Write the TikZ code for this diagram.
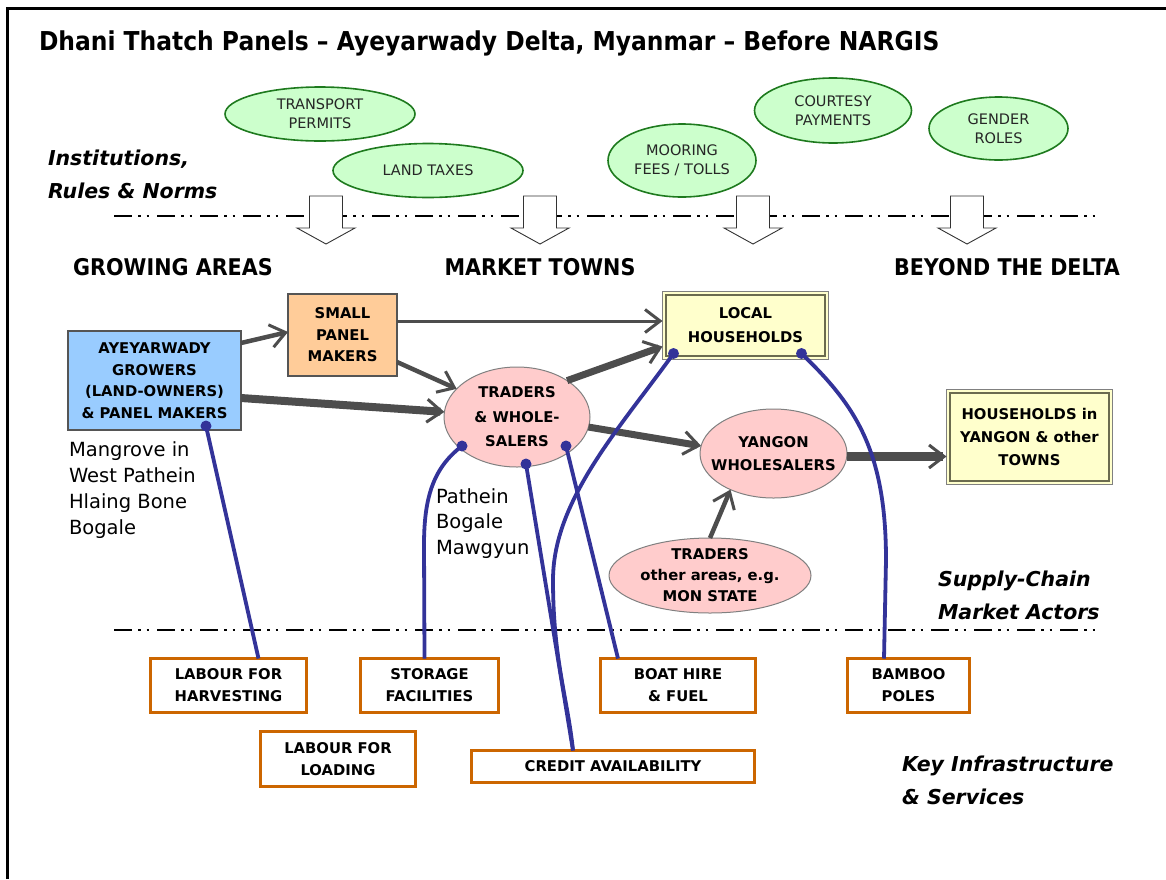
\documentclass[tikz,border=0pt]{standalone}
\usepackage{fontspec}
\setmainfont{DejaVu Sans}
\newfontfamily\tahoma{DejaVu Sans}[FakeStretch=0.9]
\usetikzlibrary{arrows.meta,shapes.geometric,calc}

\definecolor{instfill}{HTML}{CCFFCC}
\definecolor{instline}{HTML}{1E7A1E}
\definecolor{growfill}{HTML}{99CCFF}
\definecolor{makerfill}{HTML}{FFCC99}
\definecolor{tradefill}{HTML}{FFCCCC}
\definecolor{hhfill}{HTML}{FFFFCC}
\definecolor{hhinner}{HTML}{6B6B4F}
\definecolor{boxline}{HTML}{555555}
\definecolor{ellline}{HTML}{808080}
\definecolor{servline}{HTML}{CC6600}
\definecolor{linkblue}{HTML}{333399}
\definecolor{flowgray}{HTML}{4D4D4D}

\tikzset{
  every node/.style={inner sep=0pt, outer sep=0pt},
  inst/.style={ellipse, draw=instline, line width=1.6pt, fill=instfill, align=center,
    text=black!85, font=\fontsize{14.5}{19}\selectfont},
  actorbox/.style={rectangle, draw=boxline, line width=1.8pt, align=center,
    font=\bfseries\fontsize{14.8}{21.5}\selectfont},
  actorell/.style={ellipse, draw=ellline, line width=1pt, fill=tradefill, align=center,
    inner sep=-14pt, font=\bfseries\fontsize{14.8}{23}\selectfont},
  hhbox/.style={rectangle, draw=ellline, line width=1.2pt, fill=hhfill, align=center,
    font=\bfseries\fontsize{14.8}{23}\selectfont},
  hhline/.style={draw=hhinner, line width=1.6pt},
  serv/.style={rectangle, draw=servline, line width=3.2pt, fill=white, align=center,
    font=\bfseries\fontsize{14.8}{22}\selectfont},
  flow/.style={draw=flowgray, -{Straight Barb[length=15pt, width=23pt, line width=3pt]}},
  link/.style={draw=linkblue, line width=3.8pt},
  divider/.style={line width=2.8pt,
    dash pattern=on 18pt off 6pt on 2.5pt off 6pt on 2.5pt off 8pt},
  sect/.style={font=\bfseries\itshape\fontsize{20.5}{33}\selectfont, align=left, anchor=base west},
  place/.style={font=\fontsize{19.5}{25.7}\selectfont, align=left, anchor=base west},
  header/.style={font=\tahoma\bfseries\fontsize{23}{27}\selectfont, anchor=base},
  hollow/.pic={
    \draw[draw=black!80, line width=0.9pt, fill=white]
      (-16.5,0) -- (16.5,0) -- (16.5,32) -- (29,32) -- (0,48) -- (-29,32) -- (-16.5,32) -- cycle;
  },
}

\begin{document}
\begin{tikzpicture}[x=1pt, y=-1pt]
\useasboundingbox (0,0) rectangle (1166,879);

% page frame
\draw[line width=2.8pt] (7.5,879) -- (7.5,8.5) -- (1166,8.5);

% title
\node[anchor=base west, font=\tahoma\bfseries\fontsize{26}{30}\selectfont] (title) at (39,50)
  {Dhani Thatch Panels – Ayeyarwady Delta, Myanmar – Before NARGIS};

% level labels (anchored at the baseline of their last line)
\node[sect] (lvlinst) at (48,198) {Institutions,\\Rules \& Norms};
\node[sect] (lvlsc) at (938,619.5) {Supply-Chain\\Market Actors};
\node[sect] (lvlkey) at (902,804.5) {Key Infrastructure\\\& Services};

% dividers
\draw[divider] (114,216) -- (1101,216);
\draw[divider] (114,630) -- (1099,630);

% institutional influence arrows
\pic at (326,196) {hollow};
\pic at (540,196) {hollow};
\pic at (753,196) {hollow};
\pic at (967,196) {hollow};

% institutions, rules and norms
\node[inst, minimum width=190pt, minimum height=54pt] (tp) at (320,114) {TRANSPORT\\PERMITS};
\node[inst, minimum width=190pt, minimum height=54pt] (lt) at (428,170.5) {LAND TAXES};
\node[inst, minimum width=148pt, minimum height=73pt] (mf) at (682,160.5) {MOORING\\FEES / TOLLS};
\node[inst, minimum width=157pt, minimum height=65pt] (cp) at (833,110.5) {COURTESY\\PAYMENTS};
\node[inst, minimum width=139pt, minimum height=63pt] (gr) at (998.5,128.5) {GENDER\\ROLES};

% column headers
\node[header] (hgrow) at (173,275) {GROWING AREAS};
\node[header] (hmkt) at (540,275) {MARKET TOWNS};
\node[header] (hbey) at (1007,275) {BEYOND THE DELTA};

% supply-chain actors
\node[actorbox, fill=growfill, minimum width=173pt, minimum height=99pt] (grow) at (154.5,380.5)
  {AYEYARWADY\\GROWERS\\(LAND-OWNERS)\\\& PANEL MAKERS};
\node[actorbox, fill=makerfill, minimum width=109pt, minimum height=82pt] (small) at (342.5,335)
  {SMALL\\PANEL\\MAKERS};
\node[actorell, minimum width=146pt, minimum height=100pt, font=\bfseries\fontsize{14.8}{24.5}\selectfont]
  (traders) at (517,417) {TRADERS\\\& WHOLE-\\SALERS};
\node[hhbox, minimum width=166pt, minimum height=68pt, font=\bfseries\fontsize{14.8}{24}\selectfont]
  (lh) at (745.5,325.5) {LOCAL\\HOUSEHOLDS};
\node[hhbox, minimum width=166pt, minimum height=95pt] (hhy) at (1029.5,437)
  {HOUSEHOLDS in\\YANGON \& other\\TOWNS};
\node[actorell, minimum width=147pt, minimum height=89pt] (yang) at (773.5,453.5)
  {YANGON\\WHOLESALERS};
\node[actorell, minimum width=202pt, minimum height=75pt, font=\bfseries\fontsize{14.8}{21}\selectfont]
  (tother) at (710,575.5) {TRADERS\\other areas, e.g.\\MON STATE};
\foreach \n in {lh,hhy}
  \draw[hhline] ([shift={(3.5,3.5)}]\n.north west) rectangle ([shift={(-3.5,-3.5)}]\n.south east);

% locations (anchored at the baseline of their last line)
\node[place] (locgrow) at (69,534) {Mangrove in\\West Pathein\\Hlaing Bone\\Bogale};
\node[place] (locmkt) at (436,554.5) {Pathein\\Bogale\\Mawgyun};

% infrastructure and services
\node[serv, minimum width=156pt, minimum height=54pt] (harv) at (228.5,685.5) {LABOUR FOR\\HARVESTING};
\node[serv, minimum width=138pt, minimum height=54pt] (stor) at (429.5,685.5) {STORAGE\\FACILITIES};
\node[serv, minimum width=155pt, minimum height=54pt] (boat) at (678,685.5) {BOAT HIRE\\\& FUEL};
\node[serv, minimum width=155pt, minimum height=55pt] (load) at (338,759) {LABOUR FOR\\LOADING};
\node[serv, minimum width=283pt, minimum height=32pt] (credit) at (613,766.5) {CREDIT AVAILABILITY};
\node[serv, minimum width=122pt, minimum height=54pt] (bamboo) at (908.5,685.5) {BAMBOO\\POLES};

% product flows
\draw[flow, line width=4.5pt] ([yshift=-12pt]grow.north east) -- ([yshift=-38pt]small.north west);
\draw[flow, line width=8pt] ([yshift=32pt]grow.south east) -- (traders.176);
\draw[flow, line width=4.5pt] ([yshift=14pt]small.south east) -- (traders.155);
\draw[flow, line width=3pt] ([yshift=-27pt]small.north east) coordinate (sm) -- (sm -| lh.west);
\draw[flow, line width=7pt] (traders.36) -- ([yshift=13pt]lh.south west);
\draw[flow, line width=7pt] (traders.-8) -- (yang.174);
\draw[flow, line width=8.5pt] ([yshift=-3pt]yang.east) coordinate (ye) -- (ye -| hhy.west);
\draw[flow, line width=4.5pt] (tother.north) -- (yang.220);

% links to infrastructure and services
\coordinate (gd) at ([shift={(138,-4)}]grow.south west);
\coordinate (td1) at ([shift={(-55,29)}]traders.center);
\coordinate (td2) at ([shift={(9,47)}]traders.center);
\coordinate (td3) at ([shift={(49,29)}]traders.center);
\coordinate (ld1) at ([shift={(11,-6)}]lh.south west);
\coordinate (ld2) at ([shift={(-27,-6)}]lh.south east);

\draw[link] (gd) -- ([xshift=30pt]harv.north);
\draw[link] (td1) .. controls (433,468) and (424,498) .. (424,545) -- ([xshift=-5pt]stor.north);
\draw[link] (td2) -- ([xshift=-40pt]credit.north);
\draw[link] (td3) -- ([xshift=-60pt]boat.north);
\draw[link] (ld1) .. controls (620,428) and (553,500) .. (553,580)
  .. controls (553,660) and (568,700) .. ([xshift=-40pt]credit.north);
\draw[link] (ld2) .. controls (855,405) and (886,450) .. (886,560) -- ([xshift=-24.5pt]bamboo.north);
\foreach \d in {gd,td1,td2,td3,ld1,ld2}
  \fill[linkblue] (\d) circle (5.5pt);
\end{tikzpicture}
\end{document}
